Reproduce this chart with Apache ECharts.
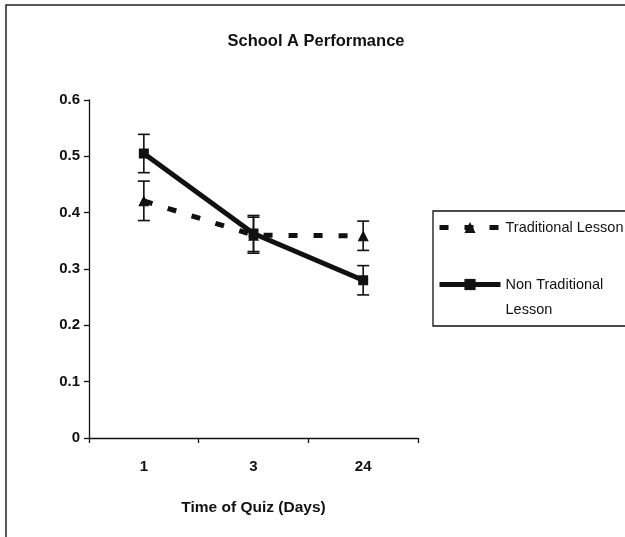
<!DOCTYPE html>
<html><head><meta charset="utf-8">
<script src="https://cdn.jsdelivr.net/npm/echarts@6/dist/echarts.min.js"></script>
<style>html,body{margin:0;padding:0;background:#fff}#c{width:625px;height:537px}</style>
</head><body><div id="c"></div>
<script>
const categories = ['1', '3', '24'];
const seriesNames = ['Traditional Lesson', 'Non Traditional Lesson'];
const traditional = [0.421, 0.360, 0.359];
const traditionalErr = [0.035, 0.032, 0.026];
const nonTraditional = [0.505, 0.363, 0.280];
const nonTraditionalErr = [0.034, 0.032, 0.026];
const yTicks = [0, 0.1, 0.2, 0.3, 0.4, 0.5, 0.6];

const FONT = '"Liberation Sans", Arial, sans-serif';
const chart = echarts.init(document.getElementById('c'));

function errSeries(vals, errs, name) {
  return {
    type: 'custom', name: name + ' err', silent: true, z: 1,
    data: vals.map((v, i) => [i, v - errs[i], v + errs[i]]),
    renderItem: function (params, api) {
      const lo = api.coord([api.value(0), api.value(1)]);
      const hi = api.coord([api.value(0), api.value(2)]);
      const w = 6;
      const st = { stroke: '#111', lineWidth: 1.6 };
      return { type: 'group', children: [
        { type: 'line', shape: { x1: lo[0], y1: lo[1], x2: hi[0], y2: hi[1] }, style: st },
        { type: 'line', shape: { x1: lo[0] - w, y1: lo[1], x2: lo[0] + w, y2: lo[1] }, style: st },
        { type: 'line', shape: { x1: hi[0] - w, y1: hi[1], x2: hi[0] + w, y2: hi[1] }, style: st }
      ]};
    }
  };
}

chart.setOption({
  backgroundColor: '#fff',
  animation: false,
  title: {
    text: 'School A Performance', left: 311, top: 28, textAlign: 'center',
    textStyle: { fontFamily: FONT, fontWeight: 'bold', fontSize: 16.5, color: '#111' }
  },
  graphic: [
    { type: 'polyline', shape: { points: [[6, 537], [6, 5], [625, 5]] }, style: { stroke: '#222', lineWidth: 1.5, fill: null } }
  ],
  legend: {
    orient: 'vertical', left: 433, top: 211, width: 190,
    padding: [4, 10, 4, 4], itemGap: 7,
    borderColor: '#111', borderWidth: 1.3, borderRadius: 0,
    itemWidth: 61, itemHeight: 14,
    lineStyle: { width: 5 },
    textStyle: { fontFamily: FONT, fontSize: 14.5, color: '#111', lineHeight: 25 },
    formatter: function (name) {
      return name === seriesNames[1] ? ' \nNon Traditional\nLesson' : name;
    },
    data: seriesNames
  },
  grid: { left: 89, right: 207, top: 100, bottom: 99 },
  xAxis: {
    type: 'category', data: categories, boundaryGap: true,
    name: 'Time of Quiz (Days)', nameLocation: 'middle', nameGap: 62,
    nameTextStyle: { fontFamily: FONT, fontWeight: 'bold', fontSize: 15.5, color: '#111' },
    axisLine: { lineStyle: { color: '#111', width: 1.3 } },
    axisTick: { show: true, length: 5, lineStyle: { color: '#111', width: 1.3 } },
    axisLabel: { fontFamily: FONT, fontWeight: 'bold', fontSize: 15, color: '#111', margin: 21 },
    splitLine: { show: false }
  },
  yAxis: {
    type: 'value', min: yTicks[0], max: yTicks[yTicks.length - 1], interval: 0.1,
    axisLine: { show: true, lineStyle: { color: '#111', width: 1.3 } },
    axisTick: { show: true, length: 5, lineStyle: { color: '#111', width: 1.3 } },
    axisLabel: { fontFamily: FONT, fontWeight: 'bold', fontSize: 15, color: '#111', margin: 9,
      formatter: v => (Math.round(v * 10) / 10).toString() },
    splitLine: { show: false }
  },
  series: [
    errSeries(traditional, traditionalErr, seriesNames[0]),
    errSeries(nonTraditional, nonTraditionalErr, seriesNames[1]),
    {
      name: seriesNames[0], type: 'line', data: traditional, z: 3,
      symbol: 'triangle', symbolSize: 11,
      lineStyle: { color: '#111', width: 5, type: [9, 16] },
      itemStyle: { color: '#111' }
    },
    {
      name: seriesNames[1], type: 'line', data: nonTraditional, z: 4,
      symbol: 'rect', symbolSize: 10,
      lineStyle: { color: '#111', width: 5 },
      itemStyle: { color: '#111' }
    }
  ]
});
</script></body></html>
